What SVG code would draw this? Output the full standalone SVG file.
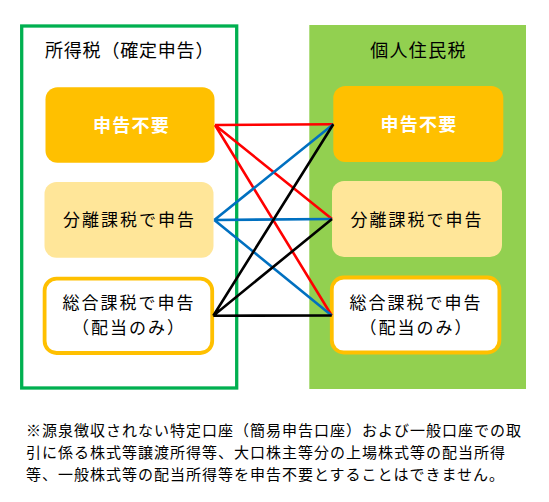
<svg xmlns="http://www.w3.org/2000/svg" width="549" height="502" viewBox="0 0 549 502">
<style>
text{font-family:"Noto Sans CJK JP","Noto Sans CJK SC",sans-serif;fill:#000}
.t{font-size:18px}
.b{font-size:17px;letter-spacing:2px;text-anchor:middle}
.w{fill:#fff;font-weight:bold;font-size:18px;letter-spacing:1.2px}
.n{font-size:15px;letter-spacing:1px}
.c{fill:none;stroke-width:2.6}
</style>
<rect width="549" height="502" fill="#fff"/>
<g id="left-panel">
<rect x="21.7" y="26" width="215" height="362" fill="#fff" stroke="#00B050" stroke-width="3.3"/>
<text class="t" x="45" y="57" letter-spacing="0.8">所得税（確定申告）</text>
</g>
<g id="right-panel">
<rect x="309.3" y="25" width="216.7" height="364" fill="#92D050"/>
<text class="t" x="418.5" y="57" text-anchor="middle" letter-spacing="1.3">個人住民税</text>
</g>
<g id="L1"><rect x="45.5" y="87.3" width="169" height="75.4" rx="12" fill="#FFC000"/><text class="b w" x="131.5" y="131.5">申告不要</text></g>
<g id="L2"><rect x="44.5" y="182" width="169" height="75.7" rx="12" fill="#FFE699"/><text class="b" x="129.5" y="226">分離課税で申告</text></g>
<g id="L3"><rect x="44.6" y="278.7" width="167.6" height="74.3" rx="12" fill="#fff" stroke="#FFC000" stroke-width="3.8"/><text class="b" x="129" y="309">総合課税で申告</text><text class="b" x="129" y="334">（配当のみ）</text></g>
<g id="R1"><rect x="333.3" y="86" width="170" height="76" rx="12" fill="#FFC000"/><text class="b w" x="419" y="131">申告不要</text></g>
<g id="R2"><rect x="332" y="181" width="170" height="76" rx="12" fill="#FFE699"/><text class="b" x="417" y="225.5">分離課税で申告</text></g>
<g id="R3"><rect x="331.8" y="277.5" width="167.6" height="75" rx="12" fill="#fff" stroke="#FFC000" stroke-width="3.8"/><text class="b" x="416" y="309">総合課税で申告</text><text class="b" x="416.5" y="334">（配当のみ）</text></g>
<g id="connectors">
<path class="c" stroke="#FF0000" d="M215,125L333.3,124.3M215,125L332,219M215,125L331.7,315.5"/>
<path class="c" stroke="#0070C0" d="M214.3,220L333.3,124.3M214.3,220L332,219M214.3,220L331.7,315.5"/>
<path class="c" stroke="#000" d="M213.3,315.7L333.3,124.3M213.3,315.7L332,219M213.3,315.7L331.7,315.5"/>
</g>
<g id="note">
<text class="n" x="26" y="436">※源泉徴収されない特定口座（簡易申告口座）および一般口座での取</text>
<text class="n" x="26" y="458">引に係る株式等譲渡所得等、大口株主等分の上場株式等の配当所得</text>
<text class="n" x="26" y="480">等、一般株式等の配当所得等を申告不要とすることはできません。</text>
</g>
</svg>
